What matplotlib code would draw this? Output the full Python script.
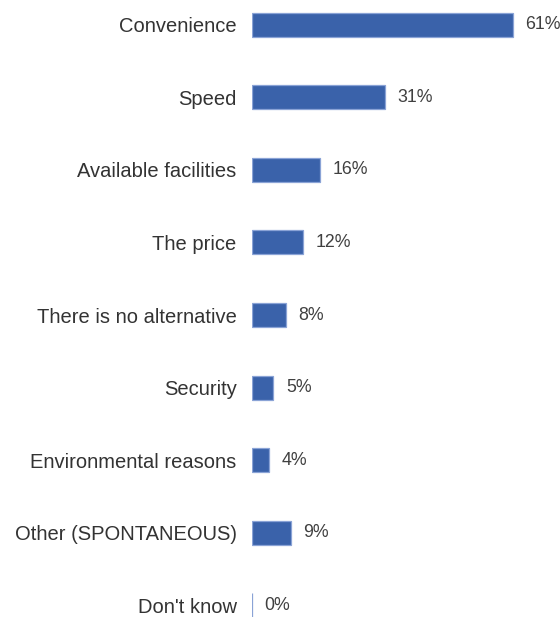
import matplotlib
matplotlib.use('Agg')
import matplotlib.pyplot as plt

plt.rcParams['font.family'] = ['Liberation Sans', 'DejaVu Sans']

categories = ['Convenience', 'Speed', 'Available facilities', 'The price',
              'There is no alternative', 'Security', 'Environmental reasons',
              'Other (SPONTANEOUS)', "Don't know"]
shares = [61, 31, 16, 12, 8, 5, 4, 9, 0]
share_labels = ['61%', '31%', '16%', '12%', '8%', '5%', '4%', '9%', '0%']

barColor = '#3a62aa'
edgeColor = '#8aa3d6'
textColor = '#333333'

fig = plt.figure(figsize=(5.6, 6.17), dpi=100)
ax = fig.add_axes([252 / 560, 0, 308 / 560, 1])

rows = list(range(len(categories)))
ax.barh(rows, shares, height=0.33, color=barColor,
        edgecolor=edgeColor, linewidth=0.9)

# value labels sit just past the bar ends
for r, v, lab in zip(rows, shares, share_labels):
    ax.annotate(lab, (v, r), xytext=(9, 0), textcoords='offset points',
                va='center', ha='left', fontsize=12.8, color='#404040',
                annotation_clip=False)

ax.set_xlim(0, 72)
ax.set_ylim(8.16, -0.34)
ax.set_yticks(rows)
ax.set_yticklabels(categories, fontsize=14.5, color=textColor)
ax.tick_params(axis='y', length=0, pad=11)
ax.set_xticks([])
for s in ax.spines.values():
    s.set_visible(False)

fig.savefig('out.png', dpi=100, facecolor='white')
